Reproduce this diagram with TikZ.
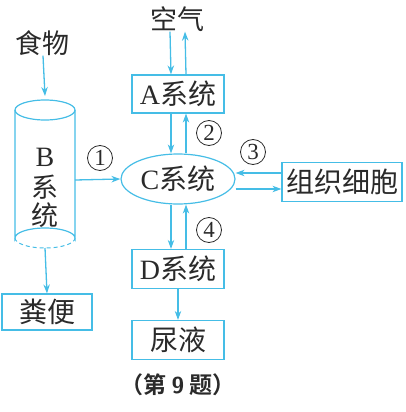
\documentclass[tikz,border=0pt]{standalone}
\usepackage{fontspec}
\newfontfamily\cjk{Noto Sans CJK SC}
\newfontfamily\cjkb{Noto Sans CJK SC Bold}
\setmainfont{Liberation Serif}
\usetikzlibrary{arrows.meta,shapes.geometric,calc}
\definecolor{lb}{HTML}{45BDE6}
\definecolor{tx}{HTML}{2A2A2A}
\tikzset{
  arr/.style={draw=lb,line width=1.3pt,-{Stealth[length=9pt,width=6.5pt]}},
  box/.style={draw=lb,line width=1.2pt,inner sep=0pt,text=tx,font=\fontsize{28}{30}\selectfont},
  lbl/.style={text=tx,font=\fontsize{27}{29}\selectfont\cjk,inner sep=0pt},
  num/.style={circle,draw=tx,line width=0.8pt,minimum size=25pt,inner sep=0pt,text=tx,font=\fontsize{23}{24}\selectfont}
}
\begin{document}
\begin{tikzpicture}[x=1pt,y=-1pt]
\useasboundingbox (0,0) rectangle (406,412);
% texts
\node[lbl] (food) at (43,43) {食物};
\node[lbl] (air) at (177,19) {空气};
% cylinder B
\coordinate (btop) at (45,96);
\draw[lb,line width=1.2pt] (45,110) ellipse [x radius=30,y radius=10];
\draw[lb,line width=1.2pt] (15,110) -- (15,238) arc[start angle=180,end angle=360,x radius=30,y radius=10] -- (75,110);
\draw[lb,line width=1.0pt,dashed,dash pattern=on 4pt off 3pt] (15,238) arc[start angle=180,end angle=0,x radius=30,y radius=10];
\node[inner sep=0pt,text=tx,font=\fontsize{28}{30}\selectfont] (B) at (45,157) {B};
\node[lbl] (Bx) at (45,187) {系};
\node[lbl] (By) at (45,215) {统};
\coordinate (bbot) at (45,248);
\coordinate (bright) at (75,180);
% boxes
\node[box,minimum width=92pt,minimum height=38pt] (A) at (178,94) {A{\cjk 系统}};
\node[box,ellipse,minimum width=114pt,minimum height=50pt] (C) at (178,179) {C{\cjk 系统}};
\node[box,minimum width=120pt,minimum height=39pt] (T) at (342,182) {\cjk 组织细胞};
\node[box,minimum width=92pt,minimum height=39pt] (D) at (178,269) {D{\cjk 系统}};
\node[box,minimum width=92pt,minimum height=39pt] (U) at (178,340) {\cjk 尿液};
\node[box,minimum width=90pt,minimum height=36pt] (F) at (47,312) {\cjk 粪便};
% arrows
\draw[arr] (food.south) -- (btop);
\draw[arr] (bbot) -- (F.north);
\draw[arr] (bright) -- (C.west);
\draw[arr] ([xshift=-7pt]air.south) -- ([xshift=-7pt]A.north);
\draw[arr] ([xshift=8pt]A.north) -- ([xshift=8pt]air.south);
\draw[arr] ([xshift=-7pt]A.south) -- ([xshift=-7pt]A.south |- C.north);
\draw[arr] ([xshift=8pt]A.south |- C.north) -- ([xshift=8pt]A.south);
\draw[arr] ([yshift=9pt]T.west) -- ([yshift=9pt]T.west -| C.east);
\draw[arr] ([yshift=-7pt]T.west -| C.east) -- ([yshift=-7pt]T.west);
\draw[arr] ([xshift=-7pt]D.north |- C.south) -- ([xshift=-7pt]D.north);
\draw[arr] ([xshift=8pt]D.north) -- ([xshift=8pt]D.north |- C.south);
\draw[arr] (D.south) -- (U.north);
% numbers
\node[num] (n1) at (100,158) {1};
\node[num] (n2) at (209,133) {2};
\node[num] (n3) at (253,152) {3};
\node[num] (n4) at (209,230) {4};
% caption
\node[text=tx,inner sep=0pt,font=\fontsize{23}{25}\selectfont] (cap) at (178,385) {\cjkb（第 {\sffamily\bfseries 9} 题）};
\end{tikzpicture}
\end{document}
